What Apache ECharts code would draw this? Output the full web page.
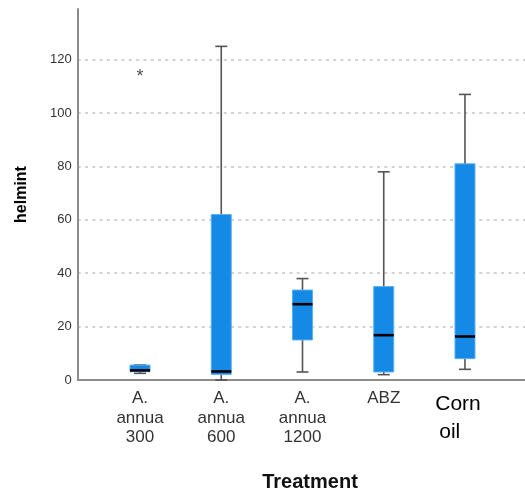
<!DOCTYPE html>
<html>
<head>
<meta charset="utf-8">
<script src="https://cdn.jsdelivr.net/npm/echarts@6/dist/echarts.min.js"></script>
<style>
  html, body { margin: 0; padding: 0; background: #fff; }
  #chart { width: 525px; height: 493px; }
</style>
</head>
<body>
<div id="chart"></div>
<script>
// Helminth counts per treatment group (box-and-whisker summary)
const categories = ['A.\nannua\n300', 'A.\nannua\n600', 'A.\nannua\n1200', 'ABZ', 'Corn\noil'];
const whiskerLow  = [2.5, 0, 3, 2, 4];
const q1          = [3.1, 2.1, 15, 3, 8];
const medians     = [3.6, 3.2, 28.4, 16.8, 16.3];
const q3          = [5.6, 62, 33.7, 35, 81];
const whiskerHigh = [5.6, 125, 38, 78, 107];
const outliers    = [[0, 115]];
const yTicks = { min: 0, max: 139, interval: 20 };

const FONT = "'Liberation Sans', Arial, sans-serif";

const boxData = categories.map((c, i) => [i, whiskerLow[i], q1[i], medians[i], q3[i], whiskerHigh[i]]);

function renderBox(params, api) {
  const idx = api.value(0);
  const pMin = api.coord([idx, api.value(1)]);
  const pQ1 = api.coord([idx, api.value(2)]);
  const pMed = api.coord([idx, api.value(3)]);
  const pQ3 = api.coord([idx, api.value(4)]);
  const pMax = api.coord([idx, api.value(5)]);
  const cx = pMin[0];
  const halfBox = 10, halfCap = 6;
  const whisker = { stroke: '#555', lineWidth: 1.6 };
  return {
    type: 'group',
    children: [
      { type: 'line', shape: { x1: cx, y1: pMin[1], x2: cx, y2: pMax[1] }, style: whisker },
      { type: 'line', shape: { x1: cx - halfCap, y1: pMin[1], x2: cx + halfCap, y2: pMin[1] }, style: whisker },
      { type: 'line', shape: { x1: cx - halfCap, y1: pMax[1], x2: cx + halfCap, y2: pMax[1] }, style: whisker },
      { type: 'rect', shape: { x: cx - halfBox, y: pQ3[1], width: halfBox * 2, height: pQ1[1] - pQ3[1] },
        style: { fill: '#1589e6', stroke: '#5cb0f0', lineWidth: 1 } },
      { type: 'line', shape: { x1: cx - halfBox, y1: pMed[1], x2: cx + halfBox, y2: pMed[1] },
        style: { stroke: '#000', lineWidth: 2.6 } }
    ]
  };
}

const chart = echarts.init(document.getElementById('chart'), null, { renderer: 'canvas' });

chart.setOption({
  animation: false,
  backgroundColor: '#fff',
  grid: [
    // frame: axis lines, tick labels and gridlines
    { left: 77.7, right: 0, top: 9, bottom: 113, outerBoundsMode: 'none', containLabel: false },
    // groups: boxes and category labels
    { left: 99.4, right: 19.4, top: 9, bottom: 113, outerBoundsMode: 'none', containLabel: false }
  ],
  xAxis: [
    {
      gridIndex: 0, type: 'value', min: 0, max: 1,
      axisLine: { show: true, lineStyle: { color: '#8c8c8c', width: 2 } },
      axisTick: { show: false }, axisLabel: { show: false }, splitLine: { show: false }
    },
    {
      gridIndex: 1, type: 'category', data: categories, boundaryGap: true,
      axisLine: { show: false }, axisTick: { show: false },
      axisLabel: {
        interval: 0, margin: 9, color: '#333', fontFamily: FONT, fontSize: 17, lineHeight: 19.5,
        formatter: (v) => v === 'Corn\noil' ? '{c1|Corn}\n{c2|oil}' : v,
        rich: {
          c1: { fontFamily: FONT, fontSize: 21, lineHeight: 28, color: '#000', align: 'left', padding: [3, 14, 0, 0] },
          c2: { fontFamily: FONT, fontSize: 21, lineHeight: 28, color: '#000', align: 'left', padding: [2, 0, 0, 4] }
        }
      },
      name: 'Treatment', nameLocation: 'middle', nameGap: 92,
      nameTextStyle: { fontFamily: FONT, fontSize: 20, fontWeight: 'bold', color: '#111', padding: [0, 0, 0, 15] }
    }
  ],
  yAxis: [
    {
      gridIndex: 0, type: 'value', min: yTicks.min, max: yTicks.max, interval: yTicks.interval,
      axisLine: { show: true, lineStyle: { color: '#8c8c8c', width: 2 } },
      axisTick: { show: false },
      axisLabel: { margin: 6, color: '#333', fontFamily: FONT, fontSize: 13, showMaxLabel: false },
      splitLine: { show: true, showMaxLine: false, lineStyle: { color: '#c4c4c4', width: 1.5, type: [3, 4.3] } },
      name: 'helmint', nameLocation: 'middle', nameGap: 48, nameRotate: 90,
      nameTextStyle: { fontFamily: FONT, fontSize: 16, fontWeight: 'bold', color: '#000' }
    },
    {
      gridIndex: 1, type: 'value', min: yTicks.min, max: yTicks.max, interval: yTicks.interval,
      show: false, splitLine: { show: false }
    }
  ],
  series: [
    {
      type: 'custom', xAxisIndex: 1, yAxisIndex: 1,
      renderItem: renderBox, data: boxData, clip: false
    },
    {
      type: 'scatter', xAxisIndex: 1, yAxisIndex: 1,
      data: outliers, symbolSize: 0,
      label: { show: true, position: 'inside', formatter: '*', offset: [0, 4],
        fontFamily: FONT, fontSize: 18, color: '#222' }
    }
  ]
});
</script>
</body>
</html>
